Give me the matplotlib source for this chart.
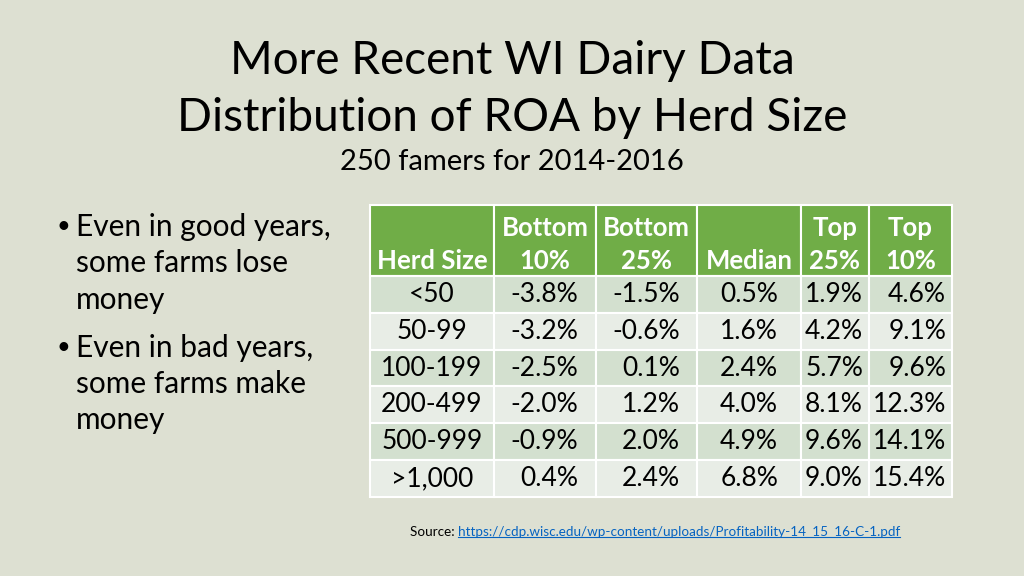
import matplotlib.pyplot as plt
from matplotlib.patches import Rectangle

plt.rcParams['font.family'] = ['Lato', 'DejaVu Sans']

# slide text
title_lines = ['More Recent WI Dairy Data', 'Distribution of ROA by Herd Size']
subtitle = '250 famers for 2014-2016'
bullets = [['Even in good years,', 'some farms lose', 'money'],
           ['Even in bad years,', 'some farms make', 'money']]
source_url = 'https://cdp.wisc.edu/wp-content/uploads/Profitability-14_15_16-C-1.pdf'

# table data
col_labels = ['\nHerd Size', 'Bottom\n10%', 'Bottom\n25%', '\nMedian', 'Top\n25%', 'Top\n10%']
herd_sizes = ['<50', '50-99', '100-199', '200-499', '500-999', '>1,000']
bottom10 = ['-3.8%', '-3.2%', '-2.5%', '-2.0%', '-0.9%', '0.4%']
bottom25 = ['-1.5%', '-0.6%', '0.1%', '1.2%', '2.0%', '2.4%']
median = ['0.5%', '1.6%', '2.4%', '4.0%', '4.9%', '6.8%']
top25 = ['1.9%', '4.2%', '5.7%', '8.1%', '9.6%', '9.0%']
top10 = ['4.6%', '9.1%', '9.6%', '12.3%', '14.1%', '15.4%']

bg = '#dde0d2'
header_green = '#70ad47'
band_colors = ['#d3e0cf', '#e8ede6']

fig = plt.figure(figsize=(10.24, 5.76), dpi=100, facecolor=bg)
ax = fig.add_axes([0, 0, 1, 1])
ax.set_xlim(0, 1024)
ax.set_ylim(576, 0)
ax.axis('off')

# title
ax.text(512, 61, title_lines[0], ha='center', va='center', fontsize=33, color='black')
ax.text(512, 118, title_lines[1], ha='center', va='center', fontsize=33, color='black')
ax.text(512, 162, subtitle, ha='center', va='center', fontsize=21, color='black')

# bullets
y = 227
for item in bullets:
    ax.text(63, y, '•', ha='center', va='center', fontsize=17)
    for line in item:
        ax.text(76, y, line, ha='left', va='center', fontsize=21.5)
        y += 36.5
    y += 11

# table
col_w = [124, 102, 101, 104, 68, 83]
pad_r = [0, 18, 17, 23, 6, 6]
x0, y0 = 370, 205
head_h, row_h = 71, 36.8
columns = [herd_sizes, bottom10, bottom25, median, top25, top10]

x = x0
for j, w in enumerate(col_w):
    ax.add_patch(Rectangle((x, y0), w, head_h, facecolor=header_green,
                           edgecolor='white', linewidth=1.5))
    ax.text(x + w / 2, y0 + head_h / 2 + 4, col_labels[j], ha='center', va='center',
            fontsize=18.5, fontweight='bold', color='white', linespacing=1.45)
    for i, val in enumerate(columns[j]):
        ry = y0 + head_h + i * row_h
        ax.add_patch(Rectangle((x, ry), w, row_h, facecolor=band_colors[i % 2],
                               edgecolor='white', linewidth=1.5))
        if j == 0:
            ax.text(x + w / 2, ry + row_h / 2, val, ha='center', va='center', fontsize=19)
        else:
            ax.text(x + w - pad_r[j], ry + row_h / 2, val, ha='right', va='center', fontsize=19)
    x += w

# source line
src = ax.text(410, 532, 'Source: ', ha='left', va='center', fontsize=9.75)
fig.canvas.draw()
r = fig.canvas.get_renderer()
bb = src.get_window_extent(r)
link_x = ax.transData.inverted().transform((bb.x1, 0))[0]
link = ax.text(link_x, 532, source_url, ha='left', va='center', fontsize=9.75, color='#0563c1')
fig.canvas.draw()
lb = link.get_window_extent(r)
(lx0, ly0), (lx1, _) = ax.transData.inverted().transform([(lb.x0, lb.y0), (lb.x1, lb.y0)])
ax.plot([lx0, lx1], [ly0 - 1, ly0 - 1], color='#0563c1', linewidth=0.8)

fig.savefig('out.png', dpi=100, facecolor=bg)
